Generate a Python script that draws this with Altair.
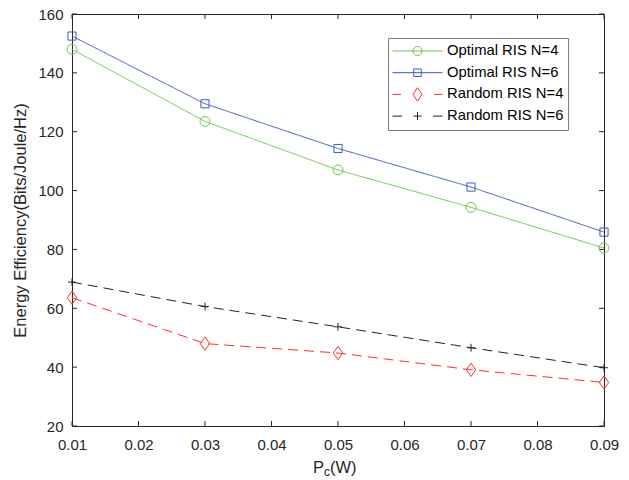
import altair as alt
import pandas as pd

# ---- data ----
pc = [0.01, 0.03, 0.05, 0.07, 0.09]
opt_n4 = [148.0, 123.5, 107.0, 94.3, 80.5]
opt_n6 = [152.5, 129.5, 114.3, 101.2, 85.9]
rand_n4 = [63.6, 48.0, 44.8, 39.1, 34.8]
rand_n6 = [68.9, 60.6, 53.7, 46.6, 39.8]

series = ["Optimal RIS N=4", "Optimal RIS N=6", "Random RIS N=4", "Random RIS N=6"]
colors = ["#6CC64E", "#3A5CC0", "#FF2F2F", "#222222"]
dashes = [[1, 0], [1, 0], [10, 6], [10, 6]]

x_ticks = [0.01, 0.02, 0.03, 0.04, 0.05, 0.06, 0.07, 0.08, 0.09]
y_ticks = [20, 40, 60, 80, 100, 120, 140, 160]

# marker shapes (data, drawn at one common size) and legend shapes (line + marker)
marker_shapes = [
    "M0.71,0A0.71,0.71,0,1,1,-0.71,0A0.71,0.71,0,1,1,0.71,0",
    "M-0.58,-0.58L0.58,-0.58L0.58,0.58L-0.58,0.58Z",
    "M0,-0.96L0.67,0L0,0.96L-0.67,0Z",
    "M-0.56,0L0.56,0M0,-0.56L0,0.56",
]
legend_shapes = [
    "M-1,0L1,0M0.18,0A0.18,0.18,0,1,1,-0.18,0A0.18,0.18,0,1,1,0.18,0",
    "M-1,0L1,0M-0.15,-0.15L0.15,-0.15L0.15,0.15L-0.15,0.15Z",
    "M-1,0L-0.66,0M0.66,0L1,0M0,-0.27L0.18,0L0,0.27L-0.18,0Z",
    "M-1,0L-0.62,0M0.62,0L1,0M-0.16,0L0.16,0M0,-0.16L0,0.16",
]

rows = []
for name, vals in zip(series, [opt_n4, opt_n6, rand_n4, rand_n6]):
    for xv, yv in zip(pc, vals):
        rows.append({"x": xv, "y": yv, "series": name})
df = pd.DataFrame(rows)

FONT = "Liberation Sans"
AX = "#262626"
W, H = 532, 412

xscale = alt.Scale(domain=[0.01, 0.09], nice=False)
yscale = alt.Scale(domain=[20, 160], nice=False)
xaxis = alt.Axis(values=x_ticks, format=".2f", title=None, labelFlush=False,
                 labelPadding=11, labelOverlap=False)
yaxis = alt.Axis(values=y_ticks, format="d", title="Energy Efficiency(Bits/Joule/Hz)",
                 labelPadding=9, titlePadding=9, labelOverlap=False)

X = alt.X("x:Q", scale=xscale, axis=xaxis)
Y = alt.Y("y:Q", scale=yscale, axis=yaxis)

lines = alt.Chart(df).mark_line(strokeWidth=1).encode(
    x=X, y=Y,
    color=alt.Color("series:N", scale=alt.Scale(domain=series, range=colors), legend=None),
    strokeDash=alt.StrokeDash("series:N", scale=alt.Scale(domain=series, range=dashes), legend=None),
    detail="series:N",
)

points = alt.Chart(df).mark_point(filled=False, strokeWidth=1, opacity=1, size=196).encode(
    x=X, y=Y,
    color=alt.Color("series:N", scale=alt.Scale(domain=series, range=colors), legend=None),
    shape=alt.Shape("series:N", scale=alt.Scale(domain=series, range=marker_shapes), legend=None),
)

leg = alt.Legend(title=None, orient="none", legendX=316, legendY=24,
                 symbolSize=2500, symbolStrokeWidth=1, clipHeight=18, rowPadding=3.7,
                 labelFont=FONT, labelFontSize=14.8, labelColor="#000000", labelOffset=4,
                 padding=4, strokeColor="#808080", fillColor="#ffffff", labelLimit=300)

legend_layer = alt.Chart(df).transform_filter("false").mark_point(
    filled=False, strokeWidth=1, opacity=1, size=2500).encode(
    x=X, y=Y,
    color=alt.Color("series:N", scale=alt.Scale(domain=series, range=colors), legend=leg),
    shape=alt.Shape("series:N", scale=alt.Scale(domain=series, range=legend_shapes), legend=leg),
)

xt = pd.DataFrame({"x": x_ticks})
yt = pd.DataFrame({"y": y_ticks})
tick_b = alt.Chart(xt).mark_rule(color=AX, strokeWidth=1).encode(
    x=X, y=alt.value(H), y2=alt.value(H - 5))
tick_t = alt.Chart(xt).mark_rule(color=AX, strokeWidth=1).encode(
    x=X, y=alt.value(0), y2=alt.value(5))
tick_l = alt.Chart(yt).mark_rule(color=AX, strokeWidth=1).encode(
    y=Y, x=alt.value(0), x2=alt.value(5))
tick_r = alt.Chart(yt).mark_rule(color=AX, strokeWidth=1).encode(
    y=Y, x=alt.value(W - 5), x2=alt.value(W))

title_main = alt.Chart(pd.DataFrame({"t": ["P"]})).mark_text(
    align="left", baseline="alphabetic", font=FONT, fontSize=16.5, color=AX).encode(
    x=alt.value(241), y=alt.value(459), text="t:N")
title_sub = alt.Chart(pd.DataFrame({"t": ["c"]})).mark_text(
    align="left", baseline="alphabetic", font=FONT, fontSize=12, color=AX).encode(
    x=alt.value(252), y=alt.value(462), text="t:N")
title_unit = alt.Chart(pd.DataFrame({"t": ["(W)"]})).mark_text(
    align="left", baseline="alphabetic", font=FONT, fontSize=16.5, color=AX).encode(
    x=alt.value(258), y=alt.value(459), text="t:N")

chart = alt.layer(
    tick_b, tick_t, tick_l, tick_r, lines, points, legend_layer,
    title_main, title_sub, title_unit,
).resolve_scale(
    color="independent", shape="independent", strokeDash="independent"
).properties(
    width=W, height=H,
    padding={"left": 64, "top": 6, "right": 15, "bottom": 52},
    autosize=alt.AutoSizeParams(type="none"),
    background="white",
).configure_view(
    stroke=AX, strokeWidth=1
).configure_axis(
    domain=False, ticks=False, grid=False,
    labelFont=FONT, labelFontSize=15, labelColor=AX,
    titleFont=FONT, titleFontSize=16.5, titleColor=AX, titleFontWeight="normal",
)

chart.save("out.html", embed_options={"renderer": "svg", "actions": False})
